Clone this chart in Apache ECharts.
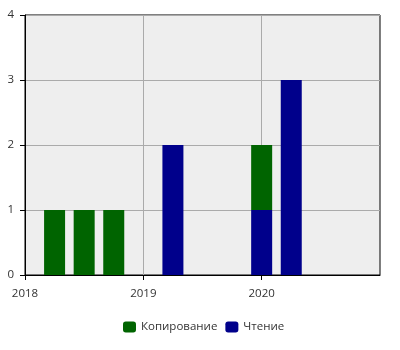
<!DOCTYPE html>
<html>
<head>
<meta charset="utf-8">
<script src="https://cdn.jsdelivr.net/npm/echarts@6/dist/echarts.min.js"></script>
<style>html,body{margin:0;padding:0;background:#fff}#c{width:400px;height:350px}</style>
</head>
<body>
<div id="c"></div>
<script>
const seriesNames = ['Копирование', 'Чтение'];
const copyDates = ['2018-04', '2018-07', '2018-10', '2020-01'];
const copyValues = [1, 1, 1, 1];
const readDates = ['2019-04', '2020-01', '2020-04'];
const readValues = [2, 1, 3];
const yearTicks = ['2018', '2019', '2020'];
const monthRange = ['2018-01', '2021-01'];
const yTicks = [0, 1, 2, 3, 4];

// monthly category slots spanning the axis range
const months = [];
for (let y = +monthRange[0].slice(0, 4); ; y++) {
  let done = false;
  for (let m = 1; m <= 12; m++) {
    const k = y + '-' + String(m).padStart(2, '0');
    if (k < monthRange[0]) continue;
    months.push(k);
    if (k >= monthRange[1]) { done = true; break; }
  }
  if (done) break;
}
const isYearTick = (i, v) => yearTicks.some(y => v === y + '-01');

const font = '"Open Sans", sans-serif';
const fs = 11.5;
const chart = echarts.init(document.getElementById('c'), null, {renderer: 'canvas'});
chart.setOption({
  animation: false,
  textStyle: {fontFamily: font},
  legend: {
    data: seriesNames,
    top: 316,
    left: 118,
    itemWidth: 13,
    itemHeight: 11,
    itemGap: 8,
    textStyle: {fontFamily: font, fontSize: fs, color: '#333'}
  },
  grid: {
    left: 25, right: 20, top: 15, bottom: 75,
    show: true, backgroundColor: '#eeeeee', borderColor: '#000', borderWidth: 1
  },
  xAxis: {
    type: 'category',
    data: months,
    boundaryGap: false,
    axisLine: {lineStyle: {color: '#000'}},
    axisTick: {show: true, length: 5, lineStyle: {color: '#000'}, interval: isYearTick},
    splitLine: {show: true, lineStyle: {color: '#aaaaaa'}, interval: isYearTick},
    axisLabel: {
      interval: isYearTick,
      formatter: v => v.slice(0, 4),
      color: '#333', fontFamily: font, fontSize: fs, margin: 13
    }
  },
  yAxis: {
    type: 'value',
    min: yTicks[0],
    max: yTicks[yTicks.length - 1],
    interval: 1,
    axisLine: {show: true, lineStyle: {color: '#000'}},
    axisTick: {show: true, length: 5, lineStyle: {color: '#000'}},
    splitLine: {show: true, lineStyle: {color: '#aaaaaa'}},
    axisLabel: {color: '#333', fontFamily: font, fontSize: fs, margin: 11}
  },
  series: [
    {
      name: seriesNames[1], type: 'bar', stack: 'total', barWidth: 21,
      itemStyle: {color: '#00008b'},
      data: readDates.map((d, i) => [d, readValues[i]])
    },
    {
      name: seriesNames[0], type: 'bar', stack: 'total', barWidth: 21,
      itemStyle: {color: '#006400'},
      data: copyDates.map((d, i) => [d, copyValues[i]])
    }
  ]
});
</script>
</body>
</html>
